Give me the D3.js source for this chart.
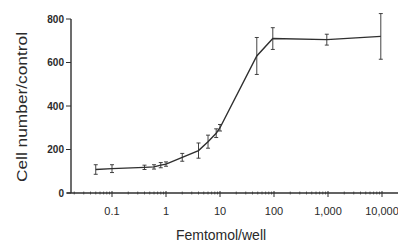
<!DOCTYPE html>
<html>
<head>
<meta charset="utf-8">
<script src="https://cdn.jsdelivr.net/npm/d3@7"></script>
<style>
  body { margin: 0; background: #fff; }
  text { font-family: "Liberation Sans", Arial, sans-serif; fill: #2a2a2a; }
</style>
</head>
<body>
<script>
// dose (femtomol/well) vs cell number/control
var doses  = [0.05, 0.1, 0.4, 0.6, 0.8, 1, 2, 4, 6, 8.5, 10, 48, 95, 950, 9500];
var cells  = [108, 112, 118, 120, 128, 133, 164, 195, 236, 275, 300, 630, 710, 705, 720];
var errs   = [22, 18, 10, 10, 12, 10, 18, 35, 30, 20, 15, 85, 50, 25, 105];
var xTicks = [0.1, 1, 10, 100, 1000, 10000];
var xTickLabels = ["0.1", "1", "10", "100", "1,000", "10,000"];
var yTicks = [0, 200, 400, 600, 800];

var W = 398, H = 243;
var ink = "#2f2f2f";

var svg = d3.select("body").append("svg").attr("width", W).attr("height", H);

var x = d3.scaleLog().domain([0.1, 10000]).range([112, 382]);
var y = d3.scaleLinear().domain([0, 800]).range([193, 19]);

// y axis
svg.append("line").attr("x1", 71).attr("x2", 71).attr("y1", y(800)).attr("y2", y(0))
  .attr("stroke", ink).attr("stroke-width", 1.4);
svg.selectAll(".ytick").data(yTicks).enter().append("line")
  .attr("x1", 66).attr("x2", 71).attr("y1", function(d){ return y(d); }).attr("y2", function(d){ return y(d); })
  .attr("stroke", ink);
svg.selectAll(".ylab").data(yTicks).enter().append("text")
  .attr("x", 64).attr("y", function(d){ return y(d) + 3.5; })
  .attr("text-anchor", "end").style("font-size", "10px").style("font-weight", "bold")
  .text(function(d){ return d; });

// x axis
svg.append("line").attr("x1", 67).attr("x2", W).attr("y1", y(0)).attr("y2", y(0))
  .attr("stroke", ink).attr("stroke-width", 1.4);
var minor = [];
[0.01, 0.1, 1, 10, 100, 1000, 10000].forEach(function(dec){
  for (var k = 2; k <= 9; k++) minor.push(dec * k);
});
minor = minor.filter(function(d){ return x(d) > 72 && x(d) < W; });
svg.selectAll(".xminor").data(minor).enter().append("line")
  .attr("x1", function(d){ return x(d); }).attr("x2", function(d){ return x(d); })
  .attr("y1", y(0) - 1.5).attr("y2", y(0) + 1.5).attr("stroke", ink).attr("stroke-width", 0.7);
svg.selectAll(".xtick").data(xTicks).enter().append("line")
  .attr("x1", function(d){ return x(d); }).attr("x2", function(d){ return x(d); })
  .attr("y1", y(0) - 2).attr("y2", y(0) + 4).attr("stroke", ink);
svg.selectAll(".xlab").data(xTicks).enter().append("text")
  .attr("x", function(d){ return x(d); }).attr("y", 215)
  .attr("text-anchor", "middle").style("font-size", "11px")
  .text(function(d, i){ return xTickLabels[i]; });

// axis titles
svg.append("text").attr("x", 221).attr("y", 240).attr("text-anchor", "middle")
  .style("font-size", "14px").text("Femtomol/well");
svg.append("text").attr("transform", "translate(27,107) rotate(-90)").attr("text-anchor", "middle")
  .style("font-size", "15px").attr("textLength", 150).attr("lengthAdjust", "spacingAndGlyphs")
  .text("Cell number/control");

// curve
var pts = doses.map(function(d, i){ return [d, cells[i], errs[i]]; });
svg.append("path").datum(pts)
  .attr("d", d3.line().x(function(d){ return x(d[0]); }).y(function(d){ return y(d[1]); }))
  .attr("fill", "none").attr("stroke", ink).attr("stroke-width", 1.4);

// error bars
var eb = svg.selectAll(".eb").data(pts).enter().append("g");
eb.append("line")
  .attr("x1", function(d){ return x(d[0]); }).attr("x2", function(d){ return x(d[0]); })
  .attr("y1", function(d){ return y(d[1] - d[2]); }).attr("y2", function(d){ return y(d[1] + d[2]); })
  .attr("stroke", ink).attr("stroke-width", 0.9);
eb.append("line")
  .attr("x1", function(d){ return x(d[0]) - 2; }).attr("x2", function(d){ return x(d[0]) + 2; })
  .attr("y1", function(d){ return y(d[1] + d[2]); }).attr("y2", function(d){ return y(d[1] + d[2]); })
  .attr("stroke", ink).attr("stroke-width", 0.9);
eb.append("line")
  .attr("x1", function(d){ return x(d[0]) - 2; }).attr("x2", function(d){ return x(d[0]) + 2; })
  .attr("y1", function(d){ return y(d[1] - d[2]); }).attr("y2", function(d){ return y(d[1] - d[2]); })
  .attr("stroke", ink).attr("stroke-width", 0.9);
</script>
</body>
</html>
